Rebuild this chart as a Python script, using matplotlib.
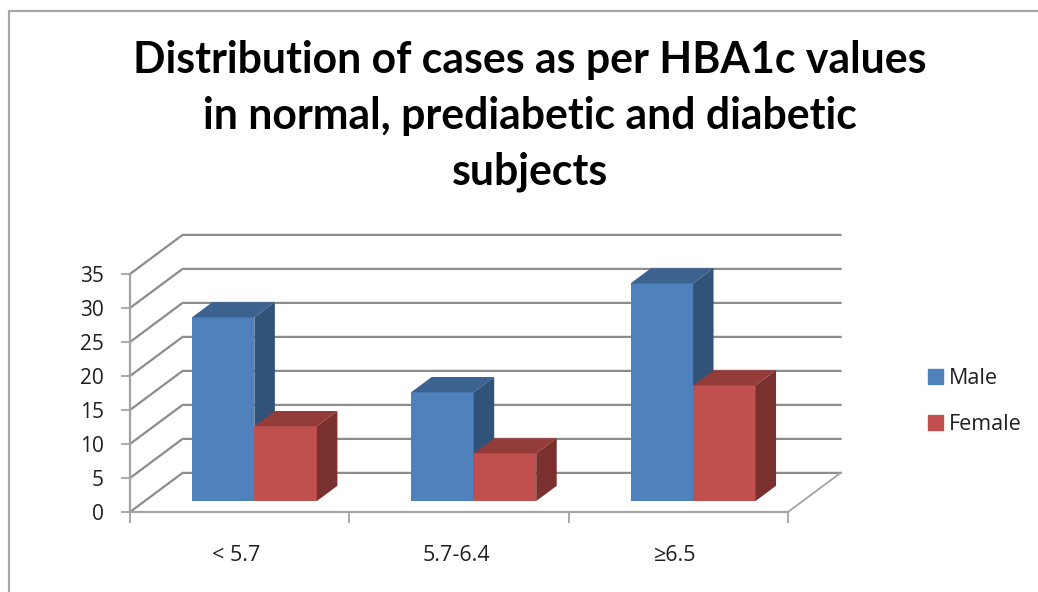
import matplotlib
matplotlib.use("Agg")
import matplotlib.pyplot as plt
from matplotlib.lines import Line2D

categories = ["< 5.7", "5.7-6.4", "≥6.5"]
male = [27, 16, 32]
female = [11, 7, 17]
title = "Distribution of cases as per HBA1c values\nin normal, prediabetic and diabetic\nsubjects"
y_ticks = [0, 5, 10, 15, 20, 25, 30, 35]

# depth of the 3-D box, in data units
DX, DY = 0.2395, 5.75
D0, D1 = 0.28, 0.67
BAR_W = 0.285
GRID = "#8C8C8C"
AXIS = "#A3A3A3"
TEXT = "#1F1F1F"
FONT = ["Open Sans", "DejaVu Sans"]

fig = plt.figure(figsize=(10.38, 5.92), dpi=100, facecolor="white")
ax = fig.add_axes([130 / 1038, 80 / 592, 658 / 1038, 238 / 592])
ax.set_xlim(0, 3)
ax.set_ylim(0, 35)
ax.patch.set_visible(False)


def proj(x, y, d):
    return x + d * DX, y + d * DY


# walls and floor
for v in y_ticks:
    xs, ys = zip(proj(0, v, 0), proj(0, v, 1), proj(3, v, 1))
    ax.plot(xs, ys, color=GRID, lw=1.6, clip_on=False, zorder=1, solid_joinstyle="miter")
xs, ys = zip(proj(3, 0, 0), proj(3, 0, 1))
ax.plot(xs, ys, color=AXIS, lw=1.3, clip_on=False, zorder=1)


def draw(xc, v, color, top, side, z):
    x0, x1 = xc, xc + BAR_W
    px, py = proj(x0, 0, D0)
    ax.bar(px, v, BAR_W, bottom=py, align="edge", color=color, clip_on=False, zorder=z, lw=0)
    t = [proj(x0, v, D0), proj(x1, v, D0), proj(x1, v, D1), proj(x0, v, D1)]
    ax.fill(*zip(*t), color=top, clip_on=False, zorder=z, lw=0)
    s = [proj(x1, 0, D0), proj(x1, v, D0), proj(x1, v, D1), proj(x1, 0, D1)]
    ax.fill(*zip(*s), color=side, clip_on=False, zorder=z, lw=0)


for i, (m, f) in enumerate(zip(male, female)):
    c = i + 0.5
    draw(c - BAR_W, m, "#4F81BD", "#3C6290", "#325379", 3)
    draw(c, f, "#C0504D", "#943C3A", "#7A302E", 4)

# axes
for s in ("top", "right"):
    ax.spines[s].set_visible(False)
for s in ("left", "bottom"):
    ax.spines[s].set_color(AXIS)
    ax.spines[s].set_linewidth(1.6)
    ax.spines[s].set_zorder(2)
ax.set_yticks(y_ticks)
ax.set_xticks(range(4))
ax.set_xticklabels([])
ax.set_xticks([0.485, 1.49, 2.485], labels=categories, minor=True)
ax.tick_params(axis="y", length=6.5, width=1.3, color=AXIS, pad=12.5, labelsize=15, labelcolor=TEXT)
ax.tick_params(axis="x", which="major", length=8, width=1.3, color=AXIS)
ax.tick_params(axis="x", which="minor", length=0, pad=23.5, labelsize=15.5, labelcolor=TEXT)
for lab in ax.get_yticklabels() + ax.get_xticklabels(minor=True):
    lab.set_family(FONT)

# legend
h = [plt.Rectangle((0, 0), 1, 1, color="#4F81BD"), plt.Rectangle((0, 0), 1, 1, color="#C0504D")]
fig.legend(h, ["Male", "Female"], loc="center left", bbox_to_anchor=(928 / 1038, 1 - 401.5 / 592),
           frameon=False, prop={"family": FONT, "size": 15.5}, labelcolor=TEXT,
           handlelength=0.7, handleheight=0.7, handletextpad=0.28, labelspacing=1.2, borderpad=0, borderaxespad=0)

# title
fig.text(530 / 1038, 1 - 116 / 592, title, ha="center", va="center", family=["Lato", "DejaVu Sans"],
         weight="bold", fontsize=30.8, linespacing=1.465, color="black")

# chart-area border
fig.add_artist(Line2D([8.5 / 1038, 8.5 / 1038, 1], [0, 1 - 10.5 / 592, 1 - 10.5 / 592],
                      color="#A6A6A6", lw=1.6, transform=fig.transFigure))

fig.savefig("out.png", dpi=100)
